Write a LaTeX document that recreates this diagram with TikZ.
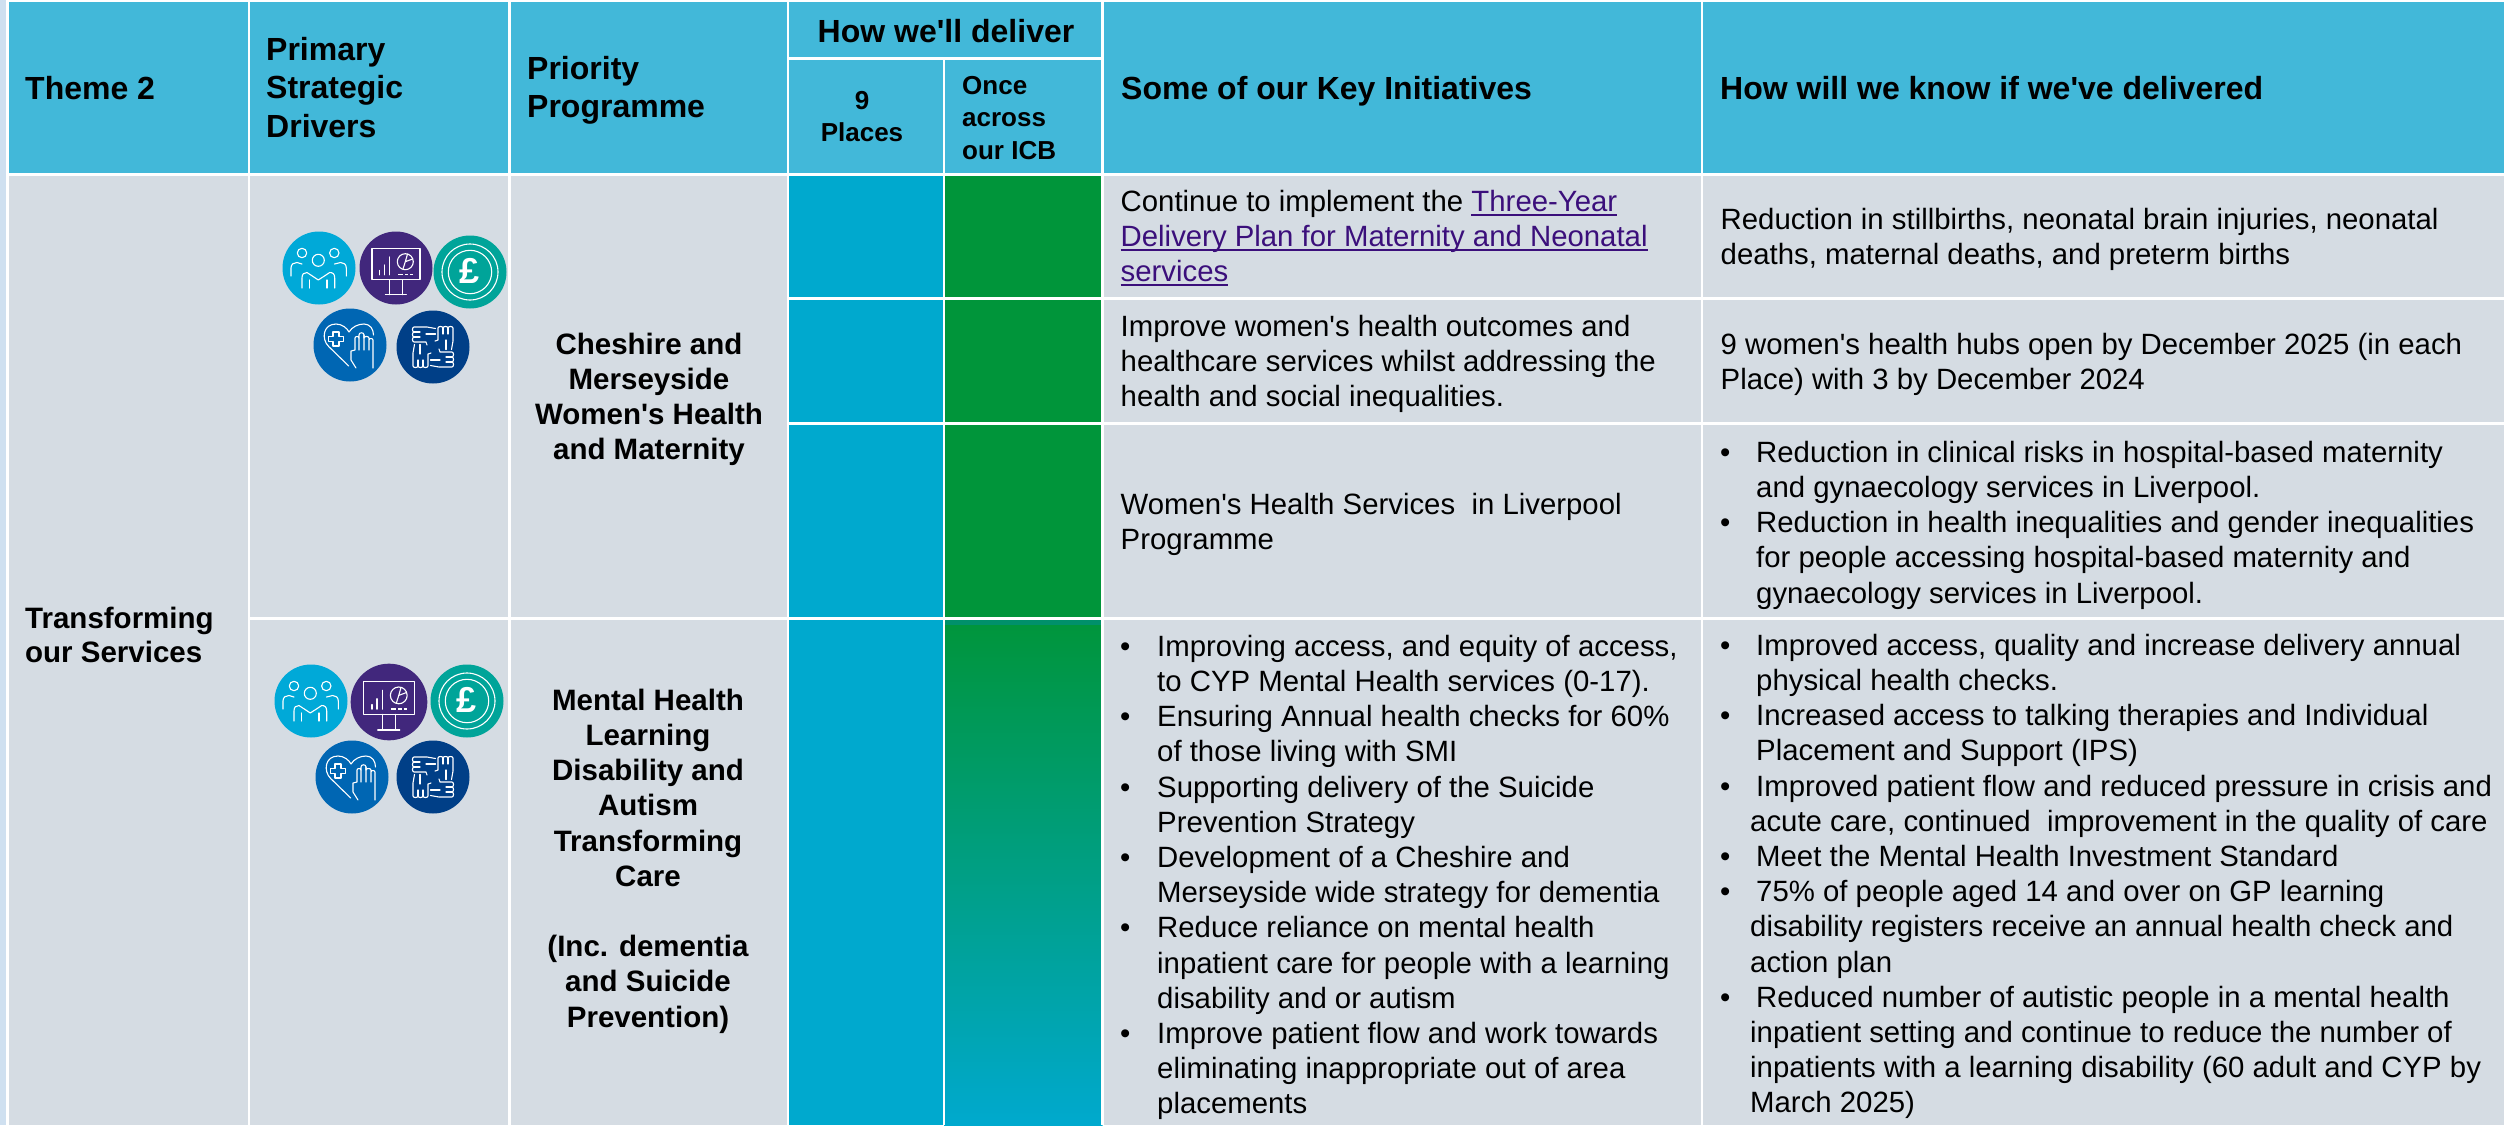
\documentclass[tikz,border=0pt]{standalone}
\usepackage{fontspec}
\setmainfont{Liberation Sans}[Ligatures=TeXOff]
\definecolor{hdr}{HTML}{42B8D9}
\definecolor{cellc}{HTML}{D5DCE3}
\definecolor{strip}{HTML}{CFE0F0}
\definecolor{cyanc}{HTML}{00A9CE}
\definecolor{greenc}{HTML}{00953A}
\definecolor{tealedge}{HTML}{00906A}
\definecolor{linkc}{HTML}{3B0F7B}
\definecolor{icA}{HTML}{00A9D8}
\definecolor{icB}{HTML}{41277C}
\definecolor{icC}{HTML}{00A499}
\definecolor{icD}{HTML}{0066B3}
\definecolor{icE}{HTML}{003F87}
\newcommand{\lnk}[1]{\textcolor{linkc}{\sbox0{#1}\rlap{\rule[-4.5pt]{\wd0}{2pt}}\box0}}
\newcommand{\bu}{\makebox[37pt][l]{•}}
\newcommand{\bv}{\makebox[36pt][l]{•}}
\newcommand{\inA}{\hspace*{37pt}}
\newcommand{\inB}{\hspace*{36pt}}
\newcommand{\inC}{\hspace*{30pt}}
% baseline-positioned text blocks: style, name, x, first baseline, text
\newcommand{\tb}[5]{\node[#1] (#2) at (#3,#4-24.64) {\rule{0pt}{24.64pt}#5};}
\tikzset{
 body/.style={inner sep=0pt,anchor=north west,align=left,font=\fontsize{29.35}{35.2}\selectfont},
 hd/.style={inner sep=0pt,anchor=north west,align=left,font=\bfseries\fontsize{32}{38.5}\selectfont},
 hdc/.style={hd,anchor=north,align=center},
 sub/.style={inner sep=0pt,anchor=north west,align=left,font=\bfseries\fontsize{26}{32.5}\selectfont},
 subc/.style={sub,anchor=north,align=center},
 prog/.style={inner sep=0pt,anchor=north,align=center,font=\bfseries\fontsize{29.5}{35.2}\selectfont},
 them/.style={inner sep=0pt,anchor=north west,align=left,font=\bfseries\fontsize{29.5}{34.5}\selectfont},
 icl/.style={draw=white,line width=1.1pt,line cap=round,line join=round},
 gridv/.style={draw=white,line width=2.5pt},
 gridh/.style={draw=white,line width=3pt}
}
\newcommand{\icPeople}[3]{\begin{scope}[shift={(#1,#2)},scale=#3]
 \fill[icA] (0,0) circle (36.5);
 \draw[icl] (-0.7,-7.7) circle (6);
 \draw[icl] (-17,-15) circle (4.7);
 \draw[icl] (15.3,-15) circle (4.7);
 \draw[icl] (-17,20) -- (-17,10) .. controls (-17,6) and (-15,4.5) .. (-12,4.5) -- (-0.7,12) -- (10.7,4.5) .. controls (14,4.5) and (15.7,6) .. (15.7,10) -- (15.7,20);
 \draw[icl] (-9.3,12) -- (-9.3,20) (8,12) -- (8,20);
 \draw[icl] (-28,8) -- (-28,0) .. controls (-28,-4) and (-25,-5.5) .. (-22,-5.5) -- (-17,-4);
 \draw[icl] (27.3,8) -- (27.3,0) .. controls (27.3,-4) and (24.5,-5.5) .. (21.5,-5.5) -- (15.5,-4);
\end{scope}}
\newcommand{\icChart}[3]{\begin{scope}[shift={(#1,#2)},scale=#3]
 \fill[icB] (0,0) circle (36.5);
 \draw[icl] (-24,-19.3) rectangle (24,11.7);
 \draw[icl] (-6.3,11.7) -- (-6.3,26.7) (6.3,11.7) -- (6.3,26.7) (-10.7,26.7) -- (10.3,26.7);
 \draw[icl,line width=1.5pt] (-16.3,6.7) -- (-16.3,2.5) (-11.3,6.7) -- (-11.3,-3) (-6.3,6.7) -- (-6.3,-11);
 \draw[icl] (9.3,-6.3) circle (8);
 \draw[icl] (7,1) -- (9.3,-6.3) -- (16.5,-9) (9.3,-6.3) -- (11.5,-14);
 \draw[icl,line width=1.5pt,line cap=butt] (2,6.7) -- (7,6.7) (9,6.7) -- (12,6.7) (14,6.7) -- (17,6.7);
\end{scope}}
\newcommand{\icPound}[4]{\begin{scope}[shift={(#2,#3)},scale=#4]
 \fill[icC] (0,0) circle (36.5);
 \draw[icl] (0,0) circle (28);
 \draw[icl] (0,0) circle (21.7);
 \node[inner sep=0pt,text=white,font=\bfseries\fontsize{36}{36}\selectfont] (#1) at (0,-1) {£};
\end{scope}}
\newcommand{\icHeart}[3]{\begin{scope}[shift={(#1,#2)},scale=#3]
 \fill[icD] (0,0) circle (36.5);
 \draw[icl] (-1.3,21) -- (-21.3,1.5) .. controls (-29,-6) and (-27,-21) .. (-14,-21) .. controls (-8,-21) and (-3,-17) .. (-1,-13) .. controls (2,-18) and (8,-21) .. (14,-21) .. controls (20,-21) and (23.5,-16) .. (23.5,-10);
 \draw[icl] (-17,-13) -- (-11,-13) -- (-11,-8.5) -- (-6.5,-8.5) -- (-6.5,-3.5) -- (-11,-3.5) -- (-11,1) -- (-17,1) -- (-17,-3.5) -- (-21.5,-3.5) -- (-21.5,-8.5) -- (-17,-8.5) -- cycle;
 \draw[icl] (6,23) -- (1,15) -- (1,6) -- (5,5) -- (5,-7) .. controls (5,-9) and (9,-9) .. (9,-7) -- (9,-10) .. controls (9,-13) and (14,-13) .. (14,-10) -- (14,5);
 \draw[icl] (9,-7) -- (9,5) (14,-10) -- (14,-7) .. controls (14,-9) and (19,-9) .. (19,-7) -- (19,5) (19,-5) .. controls (19,-7) and (23,-7) .. (23,-5) -- (23,23);
\end{scope}}
\newcommand{\icHands}[3]{\begin{scope}[shift={(#1,#2)},scale=#3]
 \fill[icE] (0,0) circle (36.5);
 \foreach \a in {0,90,180,270}{
 \begin{scope}[rotate=\a]
  \draw[icl] (2.5,-18.5) -- (-6,-20) -- (-19,-20) .. controls (-21,-20) and (-21,-15) .. (-19,-15) .. controls (-21,-15) and (-21,-10) .. (-19,-10) .. controls (-21,-10) and (-21,-5) .. (-19,-5) -- (-7,-5) -- (-6,-2);
  \draw[icl] (-19,-15) -- (-13,-15) (-19,-10) -- (-13,-10) (2.5,-13) -- (-7,-13);
 \end{scope}}
\end{scope}}
\begin{document}
\begin{tikzpicture}[x=1pt,y=-1pt]
\useasboundingbox (0,0) rectangle (2504,1125);
\fill[white] (0,0) rectangle (2504,1125);
\fill[strip] (0,0) rectangle (6,1125);
% header and body fills
\fill[hdr] (9,2) rectangle (2504,174);
\fill[cellc] (9,174) rectangle (2504,1125);
\fill[cyanc] (788,174) rectangle (944,1125);
\fill[greenc] (944,174) rectangle (1102.5,618);
\shade[top color=greenc,bottom color=cyanc] (944,618) rectangle (1102.5,1125);
\fill[tealedge] (944,618) rectangle (1102.5,625);
% grid
\draw[gridv] (249,2) -- (249,1125);
\draw[gridv] (509.5,2) -- (509.5,1125);
\draw[gridv] (788,2) -- (788,1125);
\draw[gridv] (944,58.5) -- (944,1125);
\draw[gridv] (1102.5,2) -- (1102.5,1125);
\draw[gridv] (1702,2) -- (1702,1125);
\draw[gridh] (9,174.5) -- (2504,174.5);
\draw[gridh] (788,58.5) -- (1102.5,58.5);
\draw[gridh] (788,298) -- (2504,298);
\draw[gridh] (788,423) -- (2504,423);
\draw[gridh] (250,618) -- (2504,618);
% header text
\tb{hd}{h1}{25}{99}{Theme 2}
\tb{hd}{h2}{266}{60}{Primary\\Strategic\\Drivers}
\tb{hd}{h3}{527}{79}{Priority\\Programme}
\tb{hdc}{h4}{946}{42}{How we'll deliver}
\tb{subc}{h5}{862}{109}{9\\Places}
\tb{sub}{h6}{962}{94}{Once\\across\\our ICB}
\tb{hd}{h7}{1121}{99}{Some of our Key Initiatives}
\tb{hd}{h8}{1720}{99}{How will we know if we've delivered}
% first column and programmes
\tb{them}{t1}{25}{628}{Transforming\\our Services}
\tb{prog}{p1}{649}{354}{Cheshire and\\Merseyside\\Women's Health\\and Maternity}
\tb{prog}{p2}{648}{710}{Mental Health\\Learning\\Disability and\\Autism\\Transforming\\Care\\[35.2pt](Inc. dementia\\and Suicide\\Prevention)}
% initiatives
\tb{body}{a1}{1120.5}{211}{Continue to implement the \lnk{Three-Year}\\\lnk{Delivery Plan for Maternity and Neonatal}\\\lnk{services}}
\tb{body}{a2}{1120.5}{336}{Improve women's health outcomes and\\healthcare services whilst addressing the\\health and social inequalities.}
\tb{body}{a3}{1120.5}{514}{Women's Health Services\ \ in Liverpool\\Programme}
\tb{body}{a4}{1120}{656}{\bu Improving access, and equity of access,\\\inA to CYP Mental Health services (0-17).\\\bu Ensuring Annual health checks for 60\%\\\inA of those living with SMI\\\bu Supporting delivery of the Suicide\\\inA Prevention Strategy\\\bu Development of a Cheshire and\\\inA Merseyside wide strategy for dementia\\\bu Reduce reliance on mental health\\\inA inpatient care for people with a learning\\\inA disability and or autism\\\bu Improve patient flow and work towards\\\inA eliminating inappropriate out of area\\\inA placements}
% delivered
\tb{body}{b1}{1720.5}{229}{Reduction in stillbirths, neonatal brain injuries, neonatal\\deaths, maternal deaths, and preterm births}
\tb{body}{b2}{1720.5}{354}{9 women's health hubs open by December 2025 (in each\\Place) with 3 by December 2024}
\tb{body}{b3}{1720}{462}{\bv Reduction in clinical risks in hospital-based maternity\\\inB and gynaecology services in Liverpool.\\\bv Reduction in health inequalities and gender inequalities\\\inB for people accessing hospital-based maternity and\\\inB gynaecology services in Liverpool.}
\tb{body}{b4}{1720}{655}{\bv Improved access, quality and increase delivery annual\\\inB physical health checks.\\\bv Increased access to talking therapies and Individual\\\inB Placement and Support (IPS)\\\bv Improved patient flow and reduced pressure in crisis and\\\inC acute care, continued\ \ improvement in the quality of care\\\bv Meet the Mental Health Investment Standard\\\bv 75\% of people aged 14 and over on GP learning\\\inC disability registers receive an annual health check and\\\inC action plan\\\bv Reduced number of autistic people in a mental health\\\inC inpatient setting and continue to reduce the number of\\\inC inpatients with a learning disability (60 adult and CYP by\\\inC March 2025)}
% icons
\icPeople{319}{268}{1}
\icChart{396}{268}{1}
\icPound{pa}{470}{272}{1}
\icHeart{350}{345}{1}
\icHands{433}{347}{1}
\icPeople{311}{701}{1}
\icChart{389}{702}{1.05}
\icPound{pb}{467}{701}{1}
\icHeart{352}{777}{1}
\icHands{433}{777}{1}
\end{tikzpicture}
\end{document}
